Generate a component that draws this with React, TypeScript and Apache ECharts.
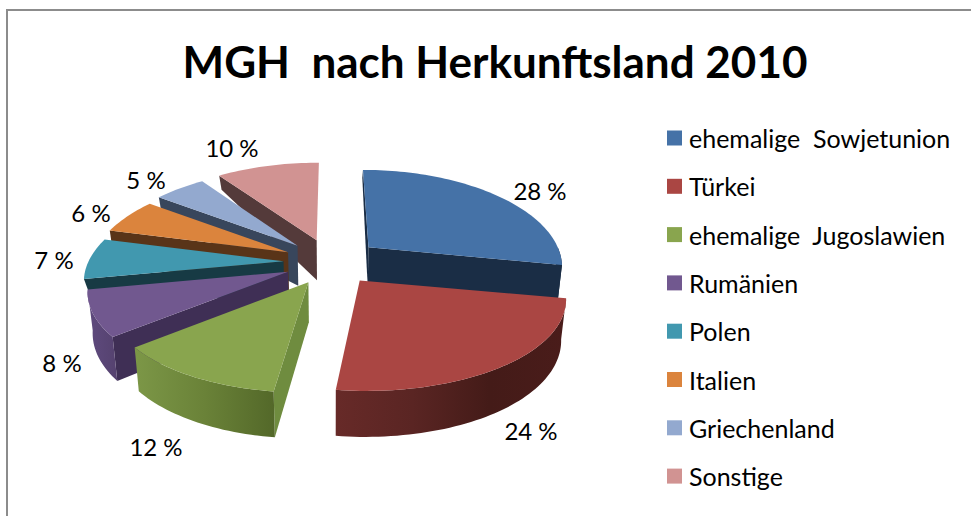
import React, { useEffect, useRef } from "react";
import * as echarts from "echarts";

const categories = ["ehemalige  Sowjetunion", "Türkei", "ehemalige  Jugoslawien", "Rumänien", "Polen", "Italien", "Griechenland", "Sonstige"];
const shares = [28, 24, 12, 8, 7, 6, 5, 10];
const titleText = "MGH  nach Herkunftsland 2010";

const topColors = ["#4572A7", "#AA4643", "#89A54E", "#71588F", "#4198AF", "#DB843D", "#93A9CF", "#D19392"];
const wallColors = ["#1a2d45", "#431a18", "#6f8c3f", "#3f2f55", "#173a44", "#593418", "#38465c", "#543a3a"];
const rimStops: string[][] = [
  ["#1a2d45", "#1a2d45"],
  ["#672a28", "#5a2523", "#441b18", "#4a1c1a"],
  ["#7c9747", "#6a8238", "#536829"],
  ["#5f4a7e", "#55426f"],
  ["#2f7082", "#2f7082"],
  ["#593418", "#593418"],
  ["#38465c", "#38465c"],
  ["#543a3a", "#543a3a"],
];
const drawOrder = [7, 6, 5, 4, 0, 3, 2, 1];
const labelPos = [[540, 190], [531, 430], [156, 446], [62, 362], [54, 259], [91, 212], [146, 179], [232, 147]];

const CX = 331.5, CY = 262, EX = 48, EY = 23, RX = 195, RY = 91, K = 0.175, H0 = 40;
const FONT = "Lato, Carlito, Calibri, sans-serif";
const rad = (d: number) => (d * Math.PI) / 180;
const total = shares.reduce((a, b) => a + b, 0);
const starts: number[] = [];
shares.reduce((acc, v, i) => { starts[i] = (acc / total) * 360; return acc + v; }, 0);

function buildSlice(idx: number) {
  const s = starts[idx];
  const e = s + (shares[idx] / total) * 360;
  const mid = rad((s + e) / 2);
  const ax = CX + EX * Math.sin(mid);
  const ay = CY - EY * Math.cos(mid);
  const top = (deg: number) => {
    const c = Math.cos(rad(deg));
    const sn = Math.sin(rad(deg));
    const p = 1 + K * c;
    const scale = 1 + (ay - CY) * (sn > 0 ? 0.002 : 0.0005);
    return [ax + (ax - CX) * (1 / p - 1) + (scale * RX * sn) / p, ay - (RY * c) / p];
  };
  const drop = (deg: number) => {
    const c = Math.cos(rad(deg));
    return c > 0 ? H0 - 32 * c : H0 - 6 * c;
  };
  const bottom = (deg: number, h = drop(deg)) => {
    const t = top(deg);
    return [t[0] - (t[0] - CX) * 0.021, t[1] + h];
  };
  const apexBottom = [ax - (ax - CX) * 0.021, ay + H0];
  const arc = (a: number, b: number, f: (d: number) => number[]) => {
    const pts: number[][] = [];
    const n = Math.max(2, Math.ceil(Math.abs(b - a) / 1.5));
    for (let i = 0; i <= n; i++) pts.push(f(a + ((b - a) * i) / n));
    return pts;
  };
  const children: any[] = [];
  // The wall that sits side-on at the far left is almost wholly hidden by the next slice.
  const wall = (deg: number) => ({
    type: "polygon",
    shape: { points: [[ax, ay], top(deg), bottom(deg, deg > 250 && deg < 280 ? 14 : drop(deg)), apexBottom] },
    style: { fill: wallColors[idx] },
  });
  if (s >= 180 || s === 0) children.push(wall(s));
  if (e <= 180) children.push(wall(e));
  const a = Math.max(s, 90), b = Math.min(e, 259.2);
  if (b > a) {
    const stops = rimStops[idx].map((color, i, arr) => ({ offset: i / (arr.length - 1), color }));
    children.push({
      type: "polygon",
      shape: { points: [...arc(a, b, top), ...arc(b, a, (d) => bottom(d))] },
      style: { fill: new echarts.graphic.LinearGradient(0, 0, 1, 0, stops) },
    });
  }
  children.push({
    type: "polygon",
    shape: { points: [[ax, ay], ...arc(s, e, top)] },
    style: { fill: topColors[idx] },
  });
  children.push({
    type: "text",
    style: {
      text: `${shares[idx]} %`,
      x: labelPos[idx][0],
      y: labelPos[idx][1],
      align: "center",
      verticalAlign: "middle",
      fill: "#000",
      font: `24px ${FONT}`,
    },
  });
  return { type: "group", children };
}

export default function App() {
  const ref = useRef<HTMLDivElement>(null);
  useEffect(() => {
    const chart = echarts.init(ref.current!, undefined, { renderer: "svg" });
    chart.setOption({
      animation: false,
      backgroundColor: "#fff",
      color: topColors,
      title: {
        text: titleText,
        left: 490,
        top: 34,
        textAlign: "center",
        textStyle: { fontFamily: FONT, fontSize: 44, fontWeight: "bold", color: "#000" },
      },
      legend: {
        orient: "vertical",
        left: 667,
        top: 123,
        padding: 0,
        icon: "rect",
        itemWidth: 15,
        itemHeight: 15,
        itemGap: 18.3,
        data: categories,
        textStyle: { fontFamily: FONT, fontSize: 25, color: "#000", lineHeight: 30, padding: [0, 0, 0, 2] },
        selectedMode: false,
      },
      graphic: [
        {
          type: "polyline",
          shape: { points: [[7, 516], [7, 10], [971, 10]] },
          style: { stroke: "#8c8c8c", lineWidth: 2, fill: "none" },
          silent: true,
        },
      ],
      series: [
        {
          type: "pie",
          radius: [0, 0],
          center: [CX, CY],
          silent: true,
          label: { show: false },
          labelLine: { show: false },
          data: categories.map((name, i) => ({ name, value: shares[i] })),
        },
        {
          type: "custom",
          coordinateSystem: "none",
          silent: true,
          data: drawOrder.map((i) => ({ value: [shares[i], i] })),
          renderItem: (_p: any, api: any) => buildSlice(api.value(1)),
        },
      ],
    });
    return () => chart.dispose();
  }, []);
  return <div ref={ref} style={{ position: "fixed", left: 0, top: 0, width: 971, height: 516 }} />;
}
